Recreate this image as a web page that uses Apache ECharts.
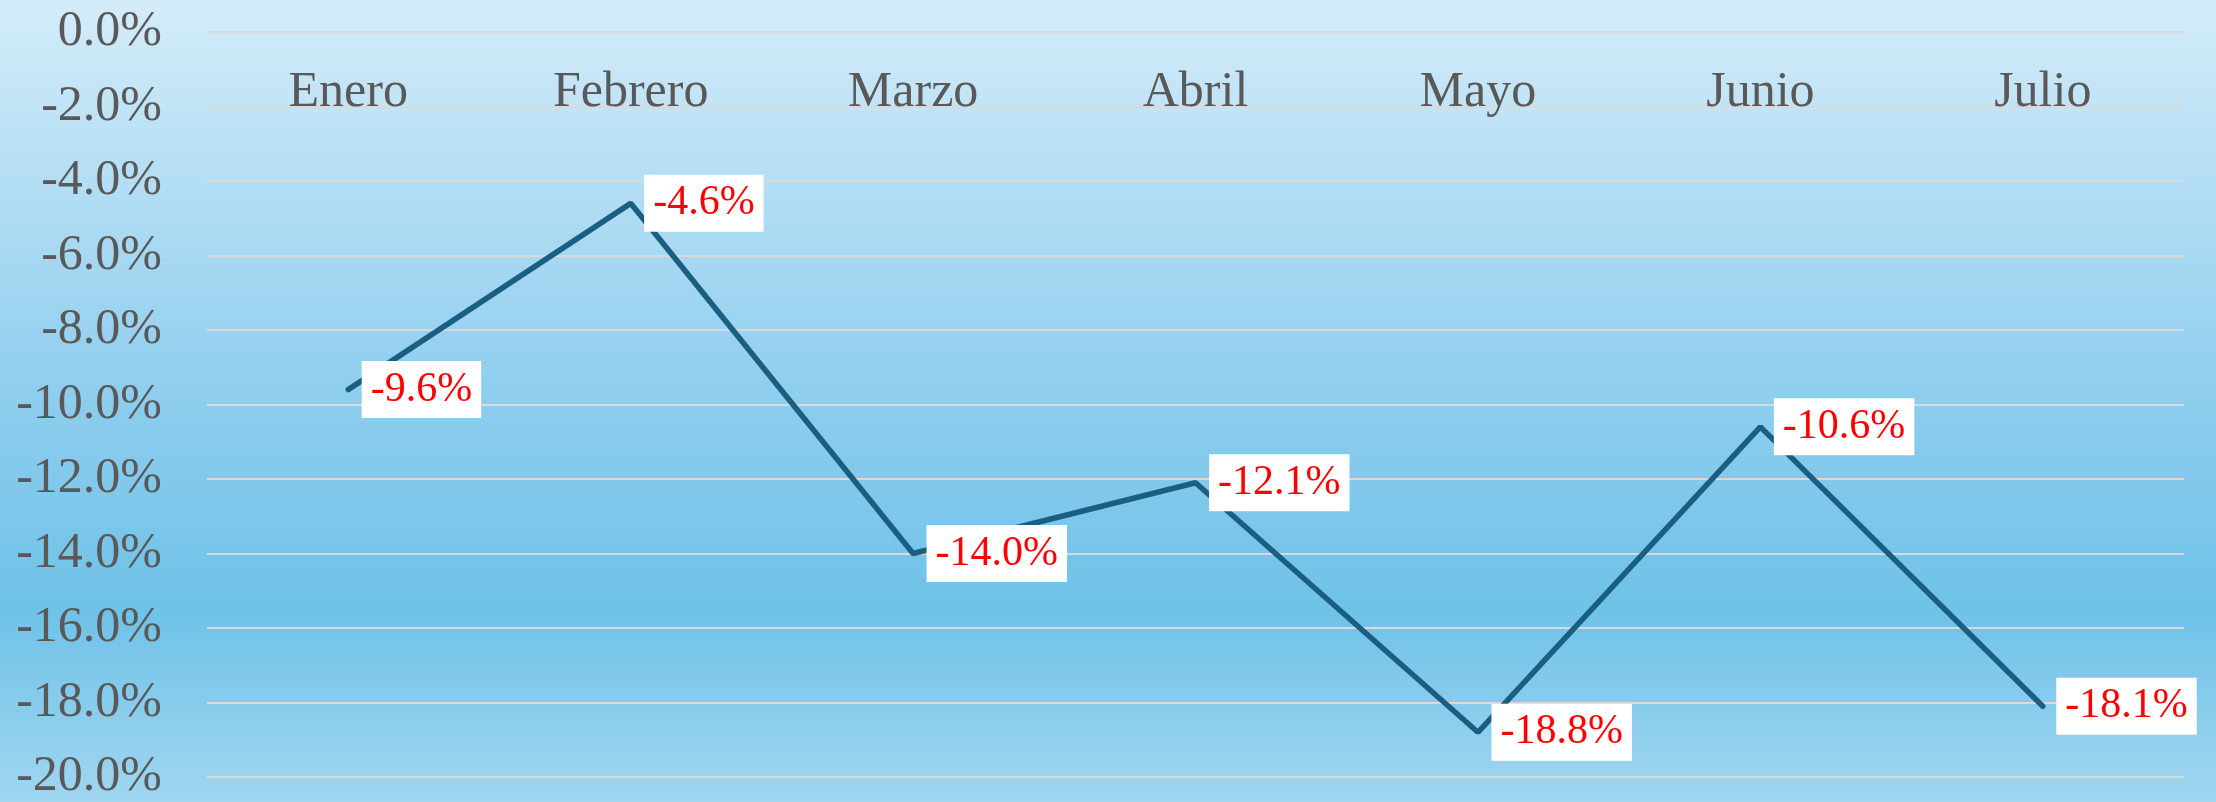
<!DOCTYPE html>
<html>
<head>
<meta charset="utf-8">
<script src="https://cdn.jsdelivr.net/npm/echarts@6/dist/echarts.min.js"></script>
<style>
  html, body { margin: 0; padding: 0; }
  #chart { width: 2216px; height: 802px; }
</style>
</head>
<body>
<div id="chart"></div>
<script>
var months = ['Enero', 'Febrero', 'Marzo', 'Abril', 'Mayo', 'Junio', 'Julio'];
var variacion = [-9.6, -4.6, -14.0, -12.1, -18.8, -10.6, -18.1];

var serif = "'Liberation Serif', 'Times New Roman', serif";
var pct = function (v) { return v.toFixed(1) + '%'; };

var chart = echarts.init(document.getElementById('chart'));
chart.setOption({
    backgroundColor: new echarts.graphic.LinearGradient(0, 0, 0, 1, [
        { offset: 0, color: '#d4ecf9' },
        { offset: 0.5, color: '#8dcdee' },
        { offset: 0.76, color: '#6fc2e8' },
        { offset: 1, color: '#a0d6f0' }
    ]),
    animation: false,
    grid: { left: 207, right: 32, top: 32, bottom: 20 },
    xAxis: {
        type: 'category',
        data: months,
        position: 'top',
        axisLine: { show: false },
        axisTick: { show: false },
        axisLabel: {
            inside: true,
            margin: 36,
            color: '#595959',
            fontFamily: serif,
            fontSize: 50
        }
    },
    yAxis: {
        type: 'value',
        min: -20,
        max: 0,
        interval: 2,
        axisLine: { show: false },
        axisTick: { show: false },
        axisLabel: {
            margin: 45,
            color: '#595959',
            fontFamily: serif,
            fontSize: 50,
            formatter: pct
        },
        splitLine: { lineStyle: { color: '#d9d9d9', width: 2 } }
    },
    series: [{
        type: 'line',
        data: variacion,
        symbol: 'circle',
        symbolSize: 1,
        itemStyle: { color: '#1a5f82' },
        lineStyle: { color: '#1a5f82', width: 5.5, cap: 'round' },
        label: {
            show: true,
            position: 'right',
            distance: 13,
            formatter: function (p) { return pct(p.value); },
            color: '#ff0000',
            fontFamily: serif,
            fontSize: 42,
            lineHeight: 43,
            backgroundColor: '#ffffff',
            padding: [7, 9, 7, 9]
        }
    }]
});
</script>
</body>
</html>
